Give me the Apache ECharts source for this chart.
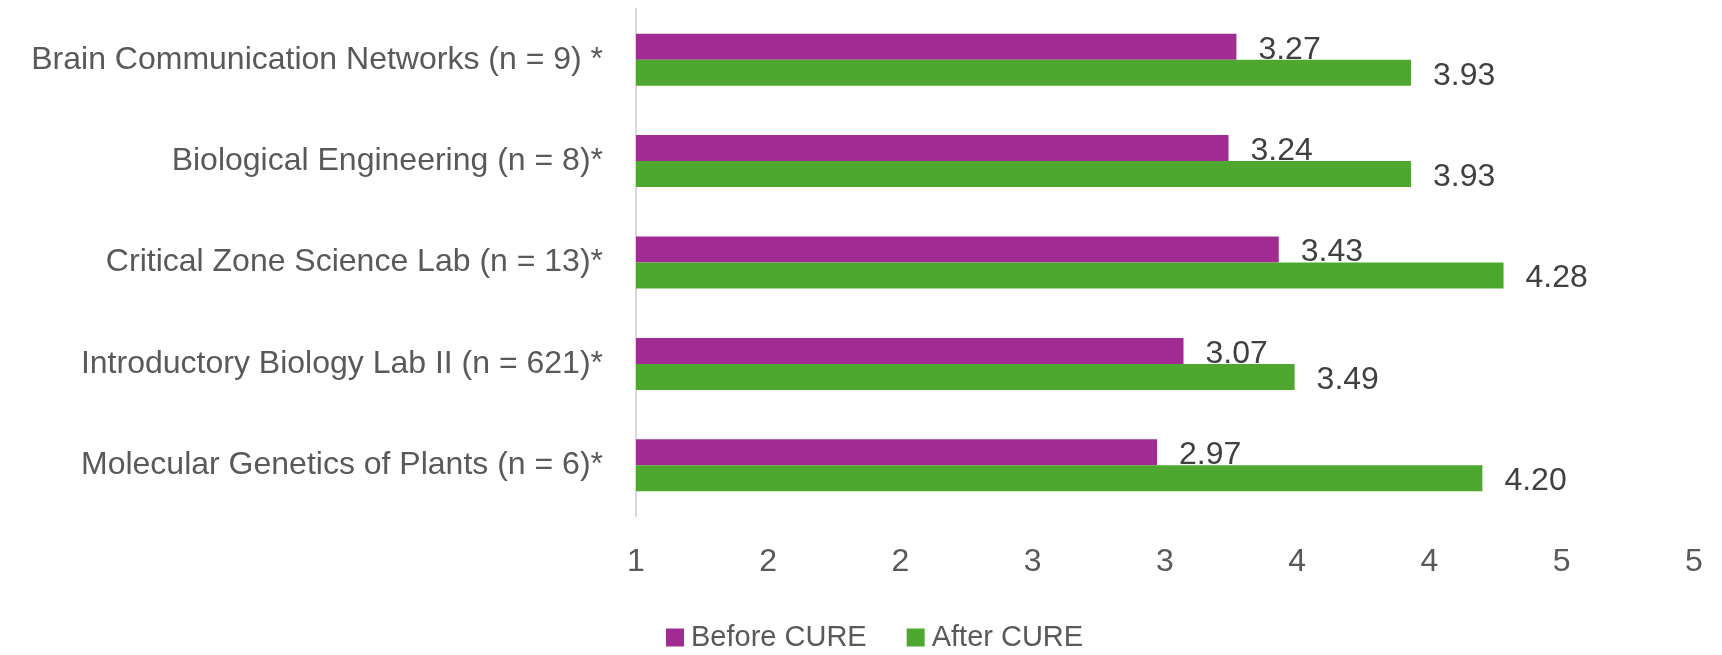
<!DOCTYPE html>
<html>
<head>
<meta charset="utf-8">
<script src="https://cdn.jsdelivr.net/npm/echarts@6/dist/echarts.min.js"></script>
<style>
  html, body { margin: 0; padding: 0; background: #ffffff; }
  #chart { width: 1722px; height: 655px; }
</style>
</head>
<body>
<div id="chart"></div>
<script>
// Course names, top to bottom
const categories = [
  'Brain Communication Networks (n = 9) *',
  'Biological Engineering (n = 8)*',
  'Critical Zone Science Lab (n = 13)*',
  'Introductory Biology Lab II (n = 621)*',
  'Molecular Genetics of Plants (n = 6)*'
];

// Mean scores before and after the CURE
const beforeCure = [3.27, 3.24, 3.43, 3.07, 2.97];
const afterCure = [3.93, 3.93, 4.28, 3.49, 4.20];

// Value axis ticks (1 to 5 in steps of 0.5, shown rounded to whole numbers)
const tickValues = [1, 1.5, 2, 2.5, 3, 3.5, 4, 4.5, 5];
const tickLabels = ['1', '2', '2', '3', '3', '4', '4', '5', '5'];

const seriesNames = ['Before CURE', 'After CURE'];
const seriesColors = ['#A02B93', '#4EA72E'];

const FONT = '"Liberation Sans", Arial, sans-serif';

const chart = echarts.init(document.getElementById('chart'), null, { renderer: 'canvas' });

function valueLabel() {
  return {
    show: true,
    position: 'right',
    distance: 22,
    offset: [0, 3],
    fontFamily: FONT,
    fontSize: 32,
    color: '#404040',
    formatter: p => p.value.toFixed(2)
  };
}

chart.setOption({
  animation: false,
  backgroundColor: '#ffffff',
  grid: { left: 636, right: 28, top: 9, bottom: 139, containLabel: false },
  legend: {
    left: 661,
    top: 618,
    itemWidth: 18,
    itemHeight: 18,
    itemGap: 40,
    icon: 'rect',
    textStyle: { fontFamily: FONT, fontSize: 29, color: '#595959', padding: [0, 0, 0, 2] },
    data: seriesNames
  },
  xAxis: {
    type: 'value',
    min: tickValues[0],
    max: tickValues[tickValues.length - 1],
    interval: 0.5,
    axisLine: { show: false },
    axisTick: { show: false },
    splitLine: { show: false },
    axisLabel: {
      margin: 30,
      fontFamily: FONT,
      fontSize: 32,
      color: '#595959',
      formatter: v => {
        const i = tickValues.findIndex(t => Math.abs(t - v) < 1e-9);
        return i >= 0 ? tickLabels[i] : '';
      }
    }
  },
  yAxis: {
    type: 'category',
    inverse: true,
    data: categories,
    axisLine: { show: true, lineStyle: { color: '#d9d9d9', width: 2 } },
    axisTick: { show: false },
    axisLabel: {
      margin: 33,
      fontFamily: FONT,
      fontSize: 32,
      color: '#595959'
    }
  },
  series: [
    {
      name: seriesNames[0],
      type: 'bar',
      data: beforeCure,
      barWidth: 26,
      barGap: '0%',
      itemStyle: { color: seriesColors[0] },
      label: valueLabel()
    },
    {
      name: seriesNames[1],
      type: 'bar',
      data: afterCure,
      barWidth: 26,
      barGap: '0%',
      itemStyle: { color: seriesColors[1] },
      label: valueLabel()
    }
  ]
});
</script>
</body>
</html>
